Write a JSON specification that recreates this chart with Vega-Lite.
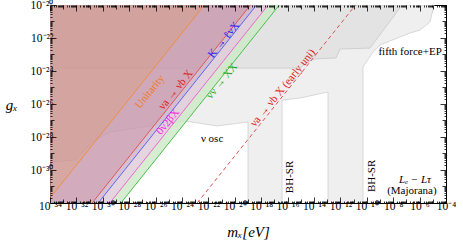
{
  "$schema": "https://vega.github.io/schema/vega-lite/v6.json",
  "width": 396,
  "height": 198,
  "autosize": "none",
  "padding": {"left": 50, "top": 5, "right": 17, "bottom": 41},
  "background": "white",
  "config": {"view": {"stroke": "black", "strokeWidth": 1}, "font": "Liberation Serif"},
  "datasets": {
    "g2": [
      {"m": 1e-34, "g": 3.02e-30},
      {"m": 7.76e-33, "g": 4.07e-30},
      {"m": 2.57e-31, "g": 6.61e-29},
      {"m": 3.55e-30, "g": 2.0e-28},
      {"m": 3.8e-27, "g": 4.68e-28},
      {"m": 1.7e-24, "g": 9.33e-28},
      {"m": 4.47e-22, "g": 4.68e-28},
      {"m": 1e-19, "g": 8.13e-28},
      {"m": 1e-19, "g": 1e-33},
      {"m": 3.8e-17, "g": 1e-33},
      {"m": 3.8e-17, "g": 1.74e-26},
      {"m": 8.71e-16, "g": 2.29e-26},
      {"m": 1.15e-13, "g": 5.37e-26},
      {"m": 1.15e-13, "g": 1e-33},
      {"m": 5.13e-11, "g": 1e-33},
      {"m": 5.13e-11, "g": 1.74e-24},
      {"m": 2.95e-10, "g": 1.41e-23},
      {"m": 1e-9, "g": 3.8e-23},
      {"m": 1.86e-7, "g": 2.0e-22},
      {"m": 1.07e-6, "g": 3.02e-22},
      {"m": 6.17e-6, "g": 9.33e-22},
      {"m": 1.23e-5, "g": 1e-20}
    ],
    "g1": [
      {"m": 1e-34, "g": 1.51e-24},
      {"m": 8.71e-16, "g": 1.51e-24},
      {"m": 3.55e-15, "g": 3.55e-24},
      {"m": 1.2e-14, "g": 5.37e-24},
      {"m": 4.68e-13, "g": 6.17e-24},
      {"m": 9.33e-13, "g": 2.14e-23},
      {"m": 1.74e-10, "g": 2.45e-23},
      {"m": 4.68e-8, "g": 1e-20}
    ],
    "bands": [
      {"band": "green", "m": 1e-36, "lo": 4.27e-40, "hi": 2.95e-39},
      {"band": "green", "m": 1e-16, "lo": 4.27e-20, "hi": 2.95e-19},
      {"band": "pink", "m": 1e-36, "lo": 2.95e-39, "hi": 2.24e-38},
      {"band": "pink", "m": 1e-16, "lo": 2.95e-19, "hi": 2.24e-18},
      {"band": "blue", "m": 1e-36, "lo": 2.24e-38, "hi": 6.46e-38},
      {"band": "blue", "m": 1e-16, "lo": 2.24e-18, "hi": 6.46e-18},
      {"band": "red", "m": 1e-36, "lo": 6.46e-38, "hi": 2.0e-34},
      {"band": "red", "m": 1e-16, "lo": 6.46e-18, "hi": 2.0e-14},
      {"band": "orange", "m": 1e-36, "lo": 2.0e-34, "hi": 1e-10},
      {"band": "orange", "m": 1e-16, "lo": 2.0e-14, "hi": 1e-10}
    ],
    "early": [
      {"m": 1.41e-23, "g": 1e-32},
      {"m": 1.41e-11, "g": 1e-20}
    ],
    "linelabels": [
      {"label": "Unitarity", "series": "orange", "m": 3.8e-27, "g": 5.4e-26},
      {"label": "νa → νb X", "series": "red", "m": 3.5e-25, "g": 7.1e-26},
      {"label": "K → ℓνX", "series": "blue", "m": 1.5e-21, "g": 7.6e-23},
      {"label": "0ν2βX", "series": "magenta", "m": 8.7e-26, "g": 8.1e-28},
      {"label": "νν → XX", "series": "green", "m": 1.07e-21, "g": 2.45e-25},
      {"label": "νa → νb X (early uni)", "series": "red", "m": 4.47e-17, "g": 9.3e-26}
    ],
    "plainlabels": [
      {"label": "fifth force+EP", "m": 1.9e-7, "g": 1.4e-23},
      {"label": "ν osc", "m": 1.9e-22, "g": 7.6e-29},
      {"label": "(Majorana)", "m": 2.6e-7, "g": 5.4e-32}
    ],
    "italiclabels": [
      {"label": "Lₑ − Lτ", "m": 4.5e-7, "g": 2.5e-31}
    ],
    "vlabels": [
      {"label": "BH-SR", "m": 1.5e-16, "g": 3.8e-31},
      {"label": "BH-SR", "m": 2.45e-10, "g": 4.4e-31}
    ]
  },
  "resolve": {"axis": {"x": "independent", "y": "independent"}},
  "layer": [
    {
      "data": {"name": "g2"},
      "mark": {"type": "area", "clip": true, "fill": "#efefef", "stroke": "#cfcfcf", "strokeWidth": 0.8},
      "encoding": {
        "x": {"field": "m", "type": "quantitative", "scale": {"type": "log", "domain": [1e-34, 1e-4], "nice": false},
          "axis": {"orient": "bottom", "tickCount": 300,
            "labelExpr": "(abs(log(datum.value)/LN10 - round(log(datum.value)/LN10)) < 0.001 && round(log(datum.value)/LN10) % 2 == 0) ? '10' + replace(replace(replace(replace(replace(replace(replace(replace(replace(replace(replace('' + round(log(datum.value)/LN10), '-', '⁻'), regexp('0','g'), '⁰'), regexp('1','g'), '¹'), regexp('2','g'), '²'), regexp('3','g'), '³'), regexp('4','g'), '⁴'), regexp('5','g'), '⁵'), regexp('6','g'), '⁶'), regexp('7','g'), '⁷'), regexp('8','g'), '⁸'), regexp('9','g'), '⁹') : ''",
            "labelOverlap": false, "labelFlush": false,
            "tickSize": {"condition": [
              {"test": "abs(log(datum.value)/LN10 - round(log(datum.value)/LN10)) < 0.001 && round(log(datum.value)/LN10) % 2 == 0", "value": -6},
              {"test": "abs(log(datum.value)/LN10 - round(log(datum.value)/LN10)) < 0.001", "value": -4}], "value": -2},
            "tickColor": "black", "tickWidth": 0.8, "domain": false, "grid": false, "zindex": 1,
            "labelFont": "Liberation Serif", "labelFontSize": 11.5, "labelColor": "black", "labelPadding": 3,
            "title": "mₓ[eV]", "titleFont": "Liberation Serif", "titleFontSize": 15, "titleFontWeight": "normal", "titleFontStyle": "italic", "titleColor": "black",
            "titleX": 198, "titleY": 33, "titleAlign": "center", "titleBaseline": "alphabetic"}},
        "y": {"field": "g", "type": "quantitative", "scale": {"type": "log", "domain": [1e-32, 1e-20], "nice": false},
          "axis": {"orient": "left", "tickCount": 150,
            "labelExpr": "(abs(log(datum.value)/LN10 - round(log(datum.value)/LN10)) < 0.001 && round(log(datum.value)/LN10) % 2 == 0) ? '10' + replace(replace(replace(replace(replace(replace(replace(replace(replace(replace(replace('' + round(log(datum.value)/LN10), '-', '⁻'), regexp('0','g'), '⁰'), regexp('1','g'), '¹'), regexp('2','g'), '²'), regexp('3','g'), '³'), regexp('4','g'), '⁴'), regexp('5','g'), '⁵'), regexp('6','g'), '⁶'), regexp('7','g'), '⁷'), regexp('8','g'), '⁸'), regexp('9','g'), '⁹') : ''",
            "labelOverlap": false, "labelFlush": false,
            "tickSize": {"condition": [
              {"test": "abs(log(datum.value)/LN10 - round(log(datum.value)/LN10)) < 0.001 && round(log(datum.value)/LN10) % 2 == 0", "value": -6},
              {"test": "abs(log(datum.value)/LN10 - round(log(datum.value)/LN10)) < 0.001", "value": -4}], "value": -2},
            "tickColor": "black", "tickWidth": 0.8, "domain": false, "grid": false, "zindex": 1,
            "labelFont": "Liberation Serif", "labelFontSize": 11.5, "labelColor": "black", "labelPadding": 3,
            "title": "gₓ", "titleFont": "Liberation Serif", "titleFontSize": 15, "titleFontWeight": "normal", "titleFontStyle": "italic", "titleColor": "black",
            "titleAngle": 0, "titleX": -39, "titleY": 99, "titleAlign": "center", "titleBaseline": "middle"}},
        "y2": {"datum": 1e-20}
      }
    },
    {
      "data": {"name": "g1"},
      "mark": {"type": "area", "clip": true, "fill": "#e3e3e3", "stroke": "#c8c8c8", "strokeWidth": 0.8},
      "encoding": {
        "x": {"field": "m", "type": "quantitative", "scale": {"type": "log", "domain": [1e-34, 1e-4], "nice": false},
          "axis": {"orient": "top", "tickCount": 300, "labels": false, "title": null,
            "tickSize": {"condition": [
              {"test": "abs(log(datum.value)/LN10 - round(log(datum.value)/LN10)) < 0.001 && round(log(datum.value)/LN10) % 2 == 0", "value": -6},
              {"test": "abs(log(datum.value)/LN10 - round(log(datum.value)/LN10)) < 0.001", "value": -4}], "value": -2},
            "tickColor": "black", "tickWidth": 0.8, "domain": false, "grid": false, "zindex": 1}},
        "y": {"field": "g", "type": "quantitative", "scale": {"type": "log", "domain": [1e-32, 1e-20], "nice": false},
          "axis": {"orient": "right", "tickCount": 150, "labels": false, "title": null,
            "tickSize": {"condition": [
              {"test": "abs(log(datum.value)/LN10 - round(log(datum.value)/LN10)) < 0.001 && round(log(datum.value)/LN10) % 2 == 0", "value": -6},
              {"test": "abs(log(datum.value)/LN10 - round(log(datum.value)/LN10)) < 0.001", "value": -4}], "value": -2},
            "tickColor": "black", "tickWidth": 0.8, "domain": false, "grid": false, "zindex": 1}},
        "y2": {"datum": 1e-20}
      }
    },
    {
      "data": {"name": "bands"},
      "mark": {"type": "area", "clip": true, "fillOpacity": 0.8},
      "encoding": {
        "x": {"field": "m", "type": "quantitative", "scale": {"type": "log", "domain": [1e-34, 1e-4], "nice": false}, "axis": null},
        "y": {"field": "lo", "type": "quantitative", "scale": {"type": "log", "domain": [1e-32, 1e-20], "nice": false}, "axis": null},
        "y2": {"field": "hi"},
        "fill": {"field": "band", "type": "nominal", "scale": {"domain": ["green", "pink", "blue", "red", "orange"], "range": ["#cce9c7", "#ddcad8", "#ccb0c9", "#c797ab", "#cc918c"]}, "legend": null}
      }
    },
    {
      "data": {"name": "bands"},
      "mark": {"type": "line", "clip": true, "strokeWidth": 1},
      "encoding": {
        "x": {"field": "m", "type": "quantitative", "scale": {"type": "log", "domain": [1e-34, 1e-4], "nice": false}, "axis": null},
        "y": {"field": "lo", "type": "quantitative", "scale": {"type": "log", "domain": [1e-32, 1e-20], "nice": false}, "axis": null},
        "stroke": {"field": "band", "type": "nominal", "scale": {"domain": ["green", "pink", "blue", "red", "orange"], "range": ["#4cbf4c", "#ee66cc", "#6262ee", "#dd5555", "#ec8c40"]}, "legend": null}
      }
    },
    {
      "data": {"name": "early"},
      "mark": {"type": "line", "clip": true, "strokeWidth": 1, "stroke": "#e05050", "strokeDash": [4, 3]},
      "encoding": {
        "x": {"field": "m", "type": "quantitative", "scale": {"type": "log", "domain": [1e-34, 1e-4], "nice": false}, "axis": null},
        "y": {"field": "g", "type": "quantitative", "scale": {"type": "log", "domain": [1e-32, 1e-20], "nice": false}, "axis": null}
      }
    },
    {
      "data": {"name": "linelabels"},
      "mark": {"type": "text", "angle": 309, "align": "center", "baseline": "middle", "font": "Liberation Serif", "fontSize": 11},
      "encoding": {
        "x": {"field": "m", "type": "quantitative", "scale": {"type": "log", "domain": [1e-34, 1e-4], "nice": false}, "axis": null},
        "y": {"field": "g", "type": "quantitative", "scale": {"type": "log", "domain": [1e-32, 1e-20], "nice": false}, "axis": null},
        "text": {"field": "label"},
        "color": {"field": "series", "type": "nominal", "scale": {"domain": ["orange", "red", "blue", "magenta", "green"], "range": ["#f07a1e", "#e01818", "#1a1aff", "#ff18e0", "#18b018"]}, "legend": null}
      }
    },
    {
      "data": {"name": "plainlabels"},
      "mark": {"type": "text", "align": "center", "baseline": "middle", "font": "Liberation Serif", "fontSize": 11, "color": "black"},
      "encoding": {
        "x": {"field": "m", "type": "quantitative", "scale": {"type": "log", "domain": [1e-34, 1e-4], "nice": false}, "axis": null},
        "y": {"field": "g", "type": "quantitative", "scale": {"type": "log", "domain": [1e-32, 1e-20], "nice": false}, "axis": null},
        "text": {"field": "label"}
      }
    },
    {
      "data": {"name": "italiclabels"},
      "mark": {"type": "text", "align": "center", "baseline": "middle", "font": "Liberation Serif", "fontSize": 11, "fontStyle": "italic", "color": "black"},
      "encoding": {
        "x": {"field": "m", "type": "quantitative", "scale": {"type": "log", "domain": [1e-34, 1e-4], "nice": false}, "axis": null},
        "y": {"field": "g", "type": "quantitative", "scale": {"type": "log", "domain": [1e-32, 1e-20], "nice": false}, "axis": null},
        "text": {"field": "label"}
      }
    },
    {
      "data": {"name": "vlabels"},
      "mark": {"type": "text", "angle": 270, "align": "center", "baseline": "middle", "font": "Liberation Serif", "fontSize": 11, "color": "black"},
      "encoding": {
        "x": {"field": "m", "type": "quantitative", "scale": {"type": "log", "domain": [1e-34, 1e-4], "nice": false}, "axis": null},
        "y": {"field": "g", "type": "quantitative", "scale": {"type": "log", "domain": [1e-32, 1e-20], "nice": false}, "axis": null},
        "text": {"field": "label"}
      }
    }
  ]
}
